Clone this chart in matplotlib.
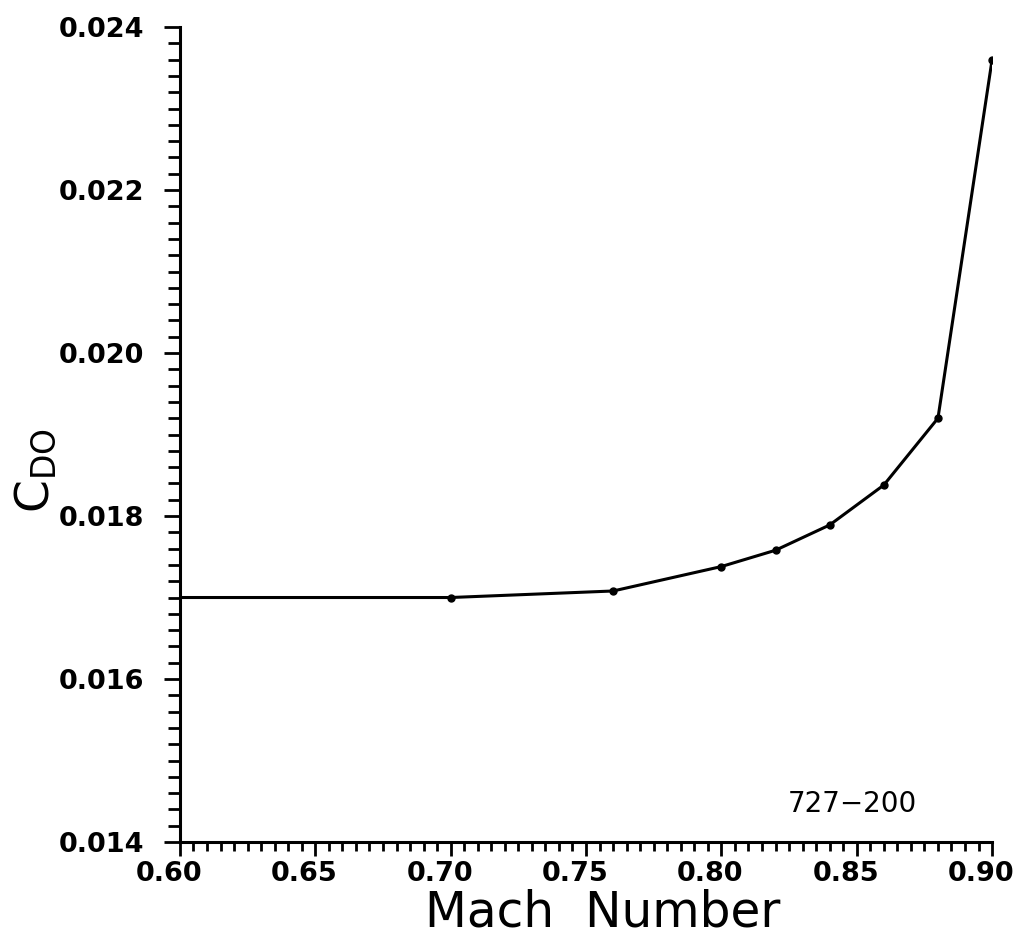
import matplotlib
matplotlib.use("Agg")
import matplotlib.pyplot as plt
import matplotlib.transforms as mtransforms
from matplotlib.ticker import MultipleLocator, FormatStrFormatter

mach = [0.60, 0.70, 0.76, 0.80, 0.82, 0.84, 0.86, 0.88, 0.90]
cd0 = [0.01700, 0.01700, 0.01708, 0.01738, 0.01758, 0.01789, 0.01838, 0.01920, 0.02360]
x_ticks = [0.60, 0.65, 0.70, 0.75, 0.80, 0.85, 0.90]
y_ticks = [0.014, 0.016, 0.018, 0.020, 0.022, 0.024]
annotation = "727\u2212200"

fig = plt.figure(figsize=(10.19, 9.39), dpi=100)
ax = fig.add_axes([0.1766, 0.1033, 0.7970, 0.8679])

ax.plot(mach, cd0, color="black", lw=2.2, marker="o", ms=5,
        markevery=list(range(1, len(mach))), solid_joinstyle="round")

ax.set_xlim(0.60, 0.90)
ax.set_ylim(0.014, 0.024)
ax.set_xticks(x_ticks)
ax.set_yticks(y_ticks)
ax.xaxis.set_minor_locator(MultipleLocator(0.005))
ax.yaxis.set_minor_locator(MultipleLocator(0.0002))
ax.xaxis.set_major_formatter(FormatStrFormatter("%.2f"))
ax.yaxis.set_major_formatter(FormatStrFormatter("%.3f"))

for s in ["top", "right"]:
    ax.spines[s].set_visible(False)
for s in ["left", "bottom"]:
    ax.spines[s].set_linewidth(2.2)
    ax.spines[s].set_capstyle("projecting")

ax.tick_params(axis="y", which="major", direction="out", length=11.5, width=2.0, pad=14)
ax.tick_params(axis="y", which="minor", direction="out", length=8.5, width=2.0)
ax.tick_params(axis="x", which="major", direction="out", length=10, width=2.0, pad=4)
ax.tick_params(axis="x", which="minor", direction="out", length=6.5, width=2.0)

shift = mtransforms.ScaledTranslation(-11 / 100, 0, fig.dpi_scale_trans)
for lab in ax.get_xticklabels():
    lab.set_transform(lab.get_transform() + shift)
for lab in ax.get_xticklabels() + ax.get_yticklabels():
    lab.set_fontsize(19.5)
    lab.set_fontweight("bold")
    lab.set_family("DejaVu Sans")

ax.set_xlabel("Mach  Number", fontsize=35, family="DejaVu Sans")
ax.xaxis.set_label_coords(0.521, -0.057)
ax.set_ylabel(r"$\mathregular{C_{DO}}$", fontsize=34, family="DejaVu Sans")
ax.yaxis.set_label_coords(-0.149, 0.456)

ax.text(0.8485, 0.01447, annotation, fontsize=20, ha="center", va="center",
        family="DejaVu Sans")

fig.savefig("out.png", dpi=100)
